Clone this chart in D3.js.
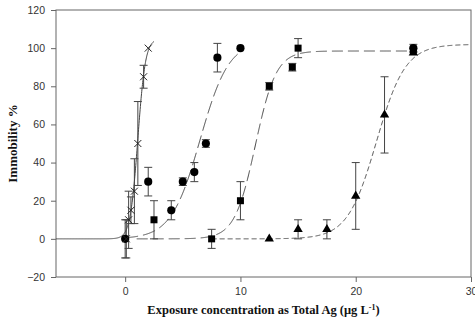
<!DOCTYPE html>
<meta charset="utf-8">
<style>
body {
    margin: 0px;
    width: 475px;
    height: 324px;
    overflow: hidden;
    background: white;
}
.tick text {
  font-family: "Liberation Sans", Arial, sans-serif;
  font-size: 10.5px;
  fill: #333;
}
.axis-title {
  font-family: "Liberation Serif", "Times New Roman", serif;
  font-weight: bold;
  font-size: 12.5px;
  fill: #111;
}
</style>
<body>
<script src="https://d3js.org/d3.v7.min.js"></script>
<script>
// data
var crossX = [0.1, 0.3, 0.5, 0.8, 1.1, 1.6, 2.0],
    crossY = [0, 10, 15, 25, 50, 85, 100],
    crossErr = [10, 15, 7, 17, 22, 6, 0];

var circleX = [0, 2, 4, 5, 6, 7, 8, 10, 25],
    circleY = [0, 30, 15, 30, 35, 50, 95, 100, 100],
    circleErr = [10, 7.5, 5, 2, 5, 2, 7.5, 0, 2];

var squareX = [2.5, 7.5, 10, 12.5, 14.5, 15, 25],
    squareY = [10, 0, 20, 80, 90, 100, 99],
    squareErr = [10, 5, 10, 2, 2, 5, 1];

var triX = [12.5, 15, 17.5, 20, 22.5, 25],
    triY = [0, 5, 5, 22.5, 65, 97.5],
    triErr = [0, 5, 5, 17.5, 20, 0];

// sigmoid fits: [top, x0, b, from, to]
var crossFit = [105, 1.1, 0.33, -6, 2.5],
    circleFit = [104, 6.5, 1.25, 0, 9.8],
    squareFit = [98.5, 11.3, 0.9, 1, 25],
    triFit = [102, 21.8, 1.25, 7.5, 30];

var xTicks = [0, 10, 20, 30],
    yTicks = [-20, 0, 20, 40, 60, 80, 100, 120];

var mLeft = 56, mRight = 471, mTop = 10, mBottom = 277;

var svg = d3.select("body").append("svg")
    .attr("width", 475)
    .attr("height", 324);

var x = d3.scaleLinear().domain([-6, 30]).range([mLeft, mRight]);
var y = d3.scaleLinear().domain([-20, 120]).range([mBottom, mTop]);

// frame
svg.append("rect")
    .attr("x", mLeft).attr("y", mTop)
    .attr("width", mRight - mLeft).attr("height", mBottom - mTop)
    .attr("fill", "none").attr("stroke", "#666").attr("stroke-width", 1);

svg.append("g")
    .attr("transform", "translate(0," + mBottom + ")")
    .call(d3.axisBottom(x).tickValues(xTicks).tickSize(5).tickPadding(6));
svg.append("g")
    .attr("transform", "translate(" + mLeft + ",0)")
    .call(d3.axisLeft(y).tickValues(yTicks).tickSize(5).tickPadding(6));
svg.selectAll(".domain").remove();
svg.selectAll(".tick line").attr("stroke", "#666");

svg.append("text").attr("class", "axis-title")
    .attr("x", (mLeft + mRight) / 2).attr("y", 314)
    .attr("text-anchor", "middle")
    .html('Exposure concentration as Total Ag (μg L<tspan dy="-4" font-size="8px">-1</tspan><tspan dy="4">)</tspan>');

svg.append("text").attr("class", "axis-title")
    .attr("transform", "translate(17," + ((mTop + mBottom) / 2) + ") rotate(-90)")
    .attr("text-anchor", "middle")
    .style("font-size", "13px")
    .text("Immobility %");

// fitted curves
function sigmoid(p) {
  return d3.range(p[3], p[4] + 0.001, 0.02).map(function(v) {
    return [v, p[0] / (1 + Math.exp(-(v - p[1]) / p[2]))];
  });
}
var line = d3.line().x(function(d) { return x(d[0]); }).y(function(d) { return y(d[1]); });

var plot = svg.append("g");
[[crossFit, null], [circleFit, "13,5"], [squareFit, "11,5"], [triFit, "5,3"]].forEach(function(c) {
  plot.append("path")
      .attr("d", line(sigmoid(c[0])))
      .attr("fill", "none")
      .attr("stroke", "#444")
      .attr("stroke-width", 1)
      .attr("stroke-dasharray", c[1]);
});

// error bars
function errorBars(xs, ys, es) {
  var g = plot.append("g").attr("stroke", "#444").attr("stroke-width", 1);
  xs.forEach(function(v, i) {
    if (!es[i]) return;
    var cx = x(v), y1 = y(ys[i] + es[i]), y2 = y(ys[i] - es[i]);
    g.append("line").attr("x1", cx).attr("x2", cx).attr("y1", y1).attr("y2", y2);
    g.append("line").attr("x1", cx - 4).attr("x2", cx + 4).attr("y1", y1).attr("y2", y1);
    g.append("line").attr("x1", cx - 4).attr("x2", cx + 4).attr("y1", y2).attr("y2", y2);
  });
}
errorBars(crossX, crossY, crossErr);
errorBars(circleX, circleY, circleErr);
errorBars(squareX, squareY, squareErr);
errorBars(triX, triY, triErr);

// markers
function markers(xs, ys, type, size) {
  var sym = d3.symbol().type(type).size(size);
  plot.append("g").selectAll("path")
      .data(xs)
      .enter().append("path")
      .attr("transform", function(d, i) { return "translate(" + x(d) + "," + y(ys[i]) + ")"; })
      .attr("d", sym)
      .attr("fill", "#000");
}
markers(squareX, squareY, d3.symbolSquare, 49);
markers(triX, triY, d3.symbolTriangle, 38);
markers(circleX, circleY, d3.symbolCircle, 52);

plot.append("g").selectAll("path")
    .data(crossX)
    .enter().append("path")
    .attr("transform", function(d, i) { return "translate(" + x(d) + "," + y(crossY[i]) + ")"; })
    .attr("d", "M-3.5,-3.5L3.5,3.5M-3.5,3.5L3.5,-3.5")
    .attr("stroke", "#222")
    .attr("stroke-width", 1)
    .attr("fill", "none");
</script>
</body>
</html>
